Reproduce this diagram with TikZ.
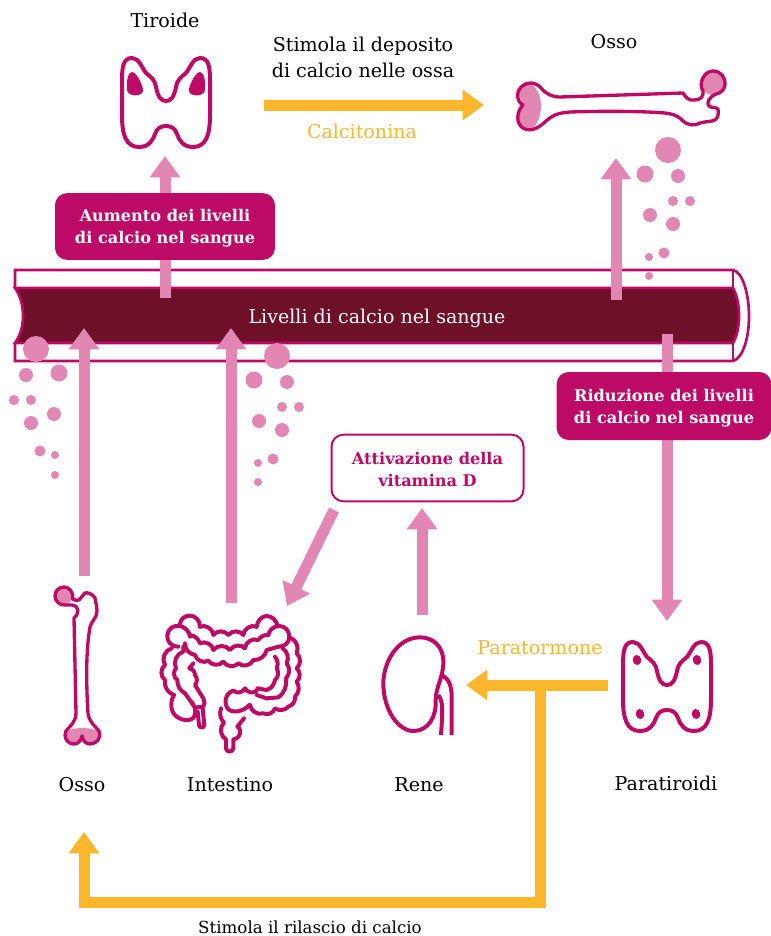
\documentclass[tikz,border=0pt]{standalone}
\usepackage{fontspec}
\setmainfont{DejaVu Serif}
\usetikzlibrary{arrows.meta}
\definecolor{mag}{HTML}{BE0A67}
\definecolor{pinkc}{HTML}{E286B4}
\definecolor{darkc}{HTML}{6E1028}
\definecolor{yel}{HTML}{FBB62B}
\newcommand{\glandpath}{(-44,-20) .. controls (-44,-35) and (-42,-42) .. (-34,-42)
 .. controls (-27,-42) and (-24,-32) .. (-20,-27)
 .. controls (-15,-23) and (-11,-20) .. (-10,-13)
 .. controls (-8,-3) and (-5,1) .. (0,1)
 .. controls (5,1) and (8,-3) .. (10,-13)
 .. controls (11,-20) and (15,-23) .. (20,-27)
 .. controls (24,-32) and (27,-42) .. (34,-42)
 .. controls (42,-42) and (44,-35) .. (44,-20)
 -- (44,15) .. controls (44,35) and (40,47) .. (27,47)
 .. controls (17,47) and (13,40) .. (11,34)
 .. controls (9,28) and (5,26) .. (0,26)
 .. controls (-5,26) and (-9,28) .. (-11,34)
 .. controls (-13,40) and (-17,47) .. (-27,47)
 .. controls (-40,47) and (-44,35) .. (-44,15) -- cycle}
\tikzset{
 lbl/.style={font=\fontsize{14.3}{19.5}\selectfont,align=center,text=black,inner sep=0pt},
 orangelbl/.style={lbl,text=yel},
 hotbox/.style={fill=mag,rounded corners=9pt,text=white,align=center,inner sep=0pt,font=\fontsize{12.1}{16.5}\selectfont\bfseries},
 whitebox/.style={draw=mag,line width=1.5pt,fill=white,rounded corners=9pt,text=mag,align=center,inner sep=0pt,font=\fontsize{12.1}{16.5}\selectfont\bfseries},
 pinkarrow/.style={draw=pinkc,line width=8.25pt,-{Triangle[length=16pt,width=22pt,fill=pinkc]}},
 yelarrow/.style={draw=yel,line width=8.25pt,-{Triangle[length=16pt,width=22pt,fill=yel]}},
 icon/.style={draw=mag,line width=3pt,line cap=round,line join=round},
 thin icon/.style={draw=mag,line width=2.5pt,line cap=round,line join=round},
 gut/.style={draw=mag,line width=3pt,line cap=round,line join=round},
 bb/.style={bend left=55},
 vessel/.style={draw=mag,line width=2pt},
 dot/.style={fill=pinkc,draw=none},
}
\begin{document}
\begin{tikzpicture}[x=0.75pt,y=-0.75pt]
\useasboundingbox (0,0) rectangle (771,936);
% vessel
\draw[vessel] (15,288) -- (15,270) -- (733,270) .. controls (743,272) and (749,295) .. (749,316) .. controls (749,338) and (743,358) .. (733,361) -- (15,361) -- (15,343);
\draw[vessel] (733,270) -- (733,361);
\draw[vessel,fill=darkc] (15,288) -- (733,288) .. controls (737,295) and (739,305) .. (739,316) .. controls (739,327) and (737,336) .. (733,343) -- (15,343) .. controls (20,336) and (23,327) .. (23,316) .. controls (23,305) and (20,295) .. (15,288) -- cycle;
\node[lbl,text=white] (sangue) at (377,318) {Livelli di calcio nel sangue};
% dots
\foreach \x/\y/\r in {668/150/13,645/174/8.5,678/176/7,650/215/7,673/224/7,673/201/5,690/201/5,664/253/5.5,649/257/4,649/276/4,
 36/349/13,26/375/7,59/373/8.5,14/400/5,31/400/5,54/414/7,31/423/7,40/451/5.5,55/455/4,55/475/4,
 277/356/13,254/380/8.5,287/382/7,282/407/5,299/407/5,259/421/7,282/430/7,273/459/5.5,258/463/4,258/482/4}
 \fill[dot] (\x,\y) circle[radius=\r*0.75pt];
% labels
\node[lbl] (tiroide) at (165,20) {Tiroide};
\node[lbl] (stimola) at (363,57) {Stimola il deposito\\di calcio nelle ossa};
\node[orangelbl] (calcitonina) at (362,131) {Calcitonina};
\node[lbl] (ossoa) at (614,42) {Osso};
\node[orangelbl] (paratormone) at (540,648) {Paratormone};
\node[lbl] (ossob) at (82,785) {Osso};
\node[lbl] (intestino) at (230,785) {Intestino};
\node[lbl] (rene) at (419,785) {Rene};
\node[lbl] (paratiroidi) at (666,785) {\strut Paratiroidi};
\node[lbl,font=\fontsize{12.5}{15}\selectfont] (rilascio) at (310,927) {Stimola il rilascio di calcio};
% arrow ends
\coordinate (a1s) at (165,298); \coordinate (a1e) at (165,156);
\coordinate (a2s) at (616,300); \coordinate (a2e) at (616,158);
\coordinate (a3s) at (84,576); \coordinate (a3e) at (84,328);
\coordinate (a4s) at (231,603); \coordinate (a4e) at (231,328);
\coordinate (a5s) at (422,615); \coordinate (a5e) at (422,508);
\coordinate (a6s) at (667,334); \coordinate (a6e) at (667,621);
\coordinate (a7s) at (334,510); \coordinate (a7e) at (287,606);
\coordinate (y1s) at (264,105); \coordinate (y1e) at (484,105);
\coordinate (y2s) at (608,685); \coordinate (y2e) at (466,685);
\coordinate (y3s) at (540,690); \coordinate (y3m) at (540,902); \coordinate (y3n) at (84,902); \coordinate (y3e) at (84,832);
% arrows
\draw[pinkarrow] (a1s) -- (a1e);
\draw[pinkarrow] (a2s) -- (a2e);
\draw[pinkarrow] (a3s) -- (a3e);
\draw[pinkarrow] (a4s) -- (a4e);
\draw[pinkarrow] (a5s) -- (a5e);
\draw[pinkarrow] (a6s) -- (a6e);
\draw[pinkarrow] (a7s) -- (a7e);
\draw[yelarrow] (y1s) -- (y1e);
\draw[yelarrow] (y2s) -- (y2e);
\draw[yelarrow,line join=miter] (y3s) -- (y3m) -- (y3n) -- (y3e);
% boxes
\node[hotbox,minimum width=165pt,minimum height=50pt] (aumento) at (165,226.5) {\rule{0pt}{12pt}Aumento dei livelli\\di calcio nel sangue};
\node[hotbox,minimum width=161pt,minimum height=51pt] (riduzione) at (664,406) {\rule{0pt}{12pt}Riduzione dei livelli\\di calcio nel sangue};
\node[whitebox,minimum width=144pt,minimum height=50pt] (attiv) at (427.5,468) {\rule{0pt}{12pt}Attivazione della\\vitamina D};
% thyroid
\begin{scope}[shift={(166,100)}]
 \draw[icon] \glandpath;
 \fill[mag] (-34,-28) .. controls (-29,-28) and (-22,-12) .. (-23,-9) .. controls (-24,-3) and (-38,-3) .. (-39,-10) .. controls (-40,-18) and (-38,-28) .. (-34,-28) -- cycle;
 \fill[mag] (34,-28) .. controls (29,-28) and (22,-12) .. (23,-9) .. controls (24,-3) and (38,-3) .. (39,-10) .. controls (40,-18) and (38,-28) .. (34,-28) -- cycle;
\end{scope}
% parathyroid
\begin{scope}[shift={(667,684)}]
 \draw[icon] \glandpath;
 \foreach \x/\y in {-30/-24,30/-24,-27/30,29/30}
  \fill[mag,rotate around={10:(\x,\y)}] (\x,\y) ellipse[x radius=3.2pt,y radius=3.8pt];
\end{scope}
% bone top right
\fill[pinkc] (530,83) .. controls (538,88) and (541,98) .. (541,106) .. controls (541,115) and (538,124) .. (532,129) .. controls (522,128) and (518,122) .. (518,117) -- (523,105) -- (518,93) .. controls (518,88) and (523,83) .. (530,83) -- cycle;
\fill[pinkc] (713,83) circle[radius=9pt];
\draw[thin icon] (523,105) .. controls (516,101) and (516,92) .. (521,87) .. controls (526,82) and (535,81) .. (541,88)
 .. controls (546,94) and (552,97) .. (560,97) -- (683,93) .. controls (686,98) and (690,101) .. (694,100)
 .. controls (700,100) and (704,97) .. (703,91) .. controls (698,84) and (704,71) .. (713,71)
 .. controls (721,71) and (726,78) .. (725,85) .. controls (724,91) and (720,93) .. (716,94)
 .. controls (709,97) and (706,103) .. (709,106) .. controls (711,108) and (716,107) .. (718,109)
 .. controls (719,115) and (718,120) .. (712,121) .. controls (706,122) and (703,122) .. (700,123)
 .. controls (695,126) and (688,126) .. (682,120) .. controls (677,115) and (672,114) .. (665,113)
 .. controls (640,111) and (600,111) .. (570,112) .. controls (556,113) and (552,116) .. (546,121)
 .. controls (538,129) and (530,132) .. (523,128) .. controls (516,124) and (516,112) .. (523,105) -- cycle;
% bone bottom left
\fill[pinkc] (64,596) circle[radius=6.5pt];
\fill[pinkc] (67,731) .. controls (75,727) and (90,727) .. (98,731) .. controls (101,737) and (97,744) .. (90,744) .. controls (86,744) and (83,741) .. (82,736) .. controls (81,741) and (78,744) .. (74,744) .. controls (68,744) and (65,737) .. (67,731) -- cycle;
\draw[thin icon] (72,605) .. controls (79,606) and (80,613) .. (74,618) -- (76,713) .. controls (76,722) and (70,726) .. (66,731)
 .. controls (63,737) and (67,744) .. (74,744) .. controls (78,744) and (81,741) .. (82,736) .. controls (83,741) and (86,744) .. (90,744)
 .. controls (97,744) and (102,737) .. (99,731) .. controls (95,726) and (89,722) .. (88,713)
 .. controls (86,680) and (86,650) .. (90,627) .. controls (92,620) and (97,618) .. (97,611)
 .. controls (97,605) and (95,600) .. (95,598) .. controls (93,594) and (87,592) .. (85,593)
 .. controls (82,595) and (82,598) .. (79,600) .. controls (77,601) and (74,600) .. (72.5,599)
 .. controls (74,592) and (69,587) .. (64,587) .. controls (59,587) and (55,591) .. (55,596) .. controls (55,601) and (60,606) .. (66,605) -- (72,605);
% intestine
\begin{scope}[shift={(150,600)},x=0.25pt,y=-0.25pt]
 % caps
 \draw[gut] (85,140) .. controls (60,140) and (50,120) .. (52,105) .. controls (55,85) and (70,75) .. (90,78) .. controls (105,80) and (118,95) .. (120,110);
 \draw[gut] (90,72) .. controls (92,55) and (105,47) .. (120,47) .. controls (135,47) and (150,60) .. (150,80);
 \draw[gut] (382,75) .. controls (378,60) and (365,48) .. (350,48) .. controls (335,48) and (322,62) .. (320,80);
 \draw[gut] (355,105) .. controls (358,90) and (370,78) .. (388,78) .. controls (405,78) and (418,92) .. (418,110) .. controls (418,128) and (405,140) .. (385,140);
 % transverse
 \draw[gut] (150,80) to[bb] (190,105) to[bb] (235,105) to[bb] (280,105) to[bb] (320,80);
 \draw[gut] (120,105) to[bend left=30] (150,130) to[bb] (190,150) to[bb] (240,150) to[bb] (285,145) to[bb] (325,120) to[bend left=30] (355,105);
 \draw[gut] (105,130) to[bend right=40] (135,165) to[bend right=55] (175,182) to[bend right=55] (220,185) to[bend right=55] (265,190) to[bend right=55] (310,180) to[bend right=40] (350,150) -- (385,140);
 % ascending
 \draw[gut] (65,145) to[bend right=55] (45,195) to[bend right=55] (45,240) to[bend right=40] (72,285);
 \draw[gut] (100,140) to[bend left=20] (100,155) to[bend right=50] (78,205) to[bend right=50] (82,240) to[bend right=30] (105,280) -- (130,315);
 \draw[gut] (72,285) .. controls (60,305) and (60,335) .. (80,350) .. controls (100,365) and (135,365) .. (135,340) .. controls (138,325) and (130,315) .. (125,305);
 \draw[gut] (130,190) -- (118,205) to[bend left=40] (135,225) to[bend left=40] (135,255) -- (160,295) to[bend left=30] (160,320) -- (140,322);
 \draw[gut] (143,335) -- (147,375) .. controls (148,385) and (163,385) .. (163,375) -- (158,325);
 % descending
 \draw[gut] (425,115) to[bend left=40] (440,160) to[bend left=50] (440,205) to[bend left=50] (440,245) to[bend left=40] (435,290) to[bend left=40] (415,320) to[bend left=40] (375,325) to[bend left=50] (340,340) to[bend left=50] (300,315);
 \draw[gut] (398,145) to[bend left=40] (410,190) to[bend left=40] (408,235) to[bend left=30] (385,292) -- (350,295) -- (320,285);
 \draw[gut] (375,170) to[bend left=30] (380,205) to[bend left=40] (375,240) to[bend left=30] (350,270) -- (322,265);
 % sigmoid
 \draw[gut] (320,272) to[bb] (285,265) to[bb] (250,272) .. controls (225,280) and (220,310) .. (235,328) .. controls (250,340) and (280,335) .. (298,315);
 % rectum
 \draw[gut] (213,325) to[bend right=30] (222,368) to[bend right=55] (228,418) -- (228,445) .. controls (230,458) and (248,458) .. (250,445) -- (250,418) to[bend right=50] (270,392) to[bend right=40] (262,380) -- (282,355);
\end{scope}
% kidney
\begin{scope}[shift={(370,620)},x=0.25pt,y=-0.25pt]
 \draw[gut] (150,52) .. controls (80,52) and (40,130) .. (40,190) .. controls (40,270) and (85,333) .. (130,333) .. controls (175,333) and (200,290) .. (197,240) .. controls (197,200) and (222,170) .. (220,120) .. controls (218,80) and (190,52) .. (150,52) -- cycle;
 \draw[gut,line cap=butt] (215,165) .. controls (235,175) and (245,195) .. (245,230) -- (245,345);
 \draw[gut,line cap=butt] (205,225) .. controls (220,245) and (218,270) .. (213,345);
\end{scope}
\end{tikzpicture}
\end{document}
